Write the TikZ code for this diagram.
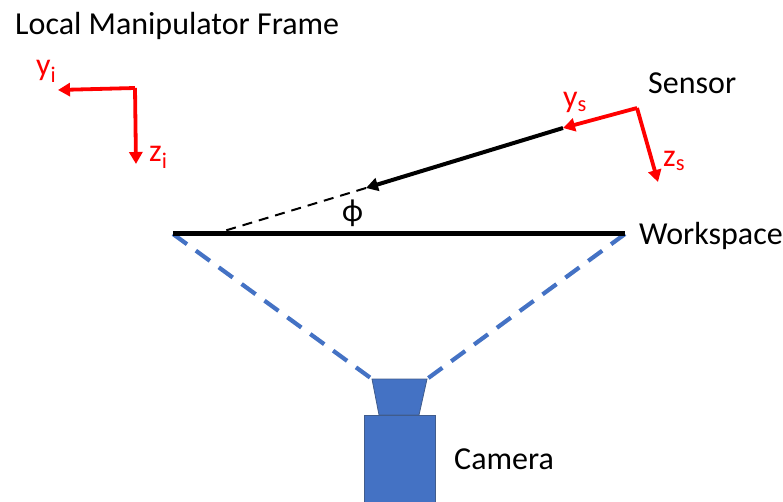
\documentclass[tikz,border=0pt]{standalone}
\usepackage{fontspec}
\setmainfont{Carlito}
\usetikzlibrary{arrows.meta}
\definecolor{camblue}{RGB}{68,114,196}
\definecolor{camedge}{RGB}{64,92,140}
\tikzset{
  x=1pt,y=-1pt,
  lbl/.style={inner sep=0pt,font=\fontsize{32}{34}\selectfont,anchor=base west},
  redlbl/.style={lbl,text=red},
  redarrow/.style={draw=red,line width=3.8pt,-{Triangle[length=12pt,width=13pt]}},
  blackarrow/.style={draw=black,line width=4pt,-{Triangle[length=12pt,width=13pt]}},
  sightline/.style={draw=black,line width=2pt,dash pattern=on 10pt off 7pt},
  viewline/.style={draw=camblue,line width=4.2pt,dash pattern=on 17.3pt off 11pt},
  campart/.style={fill=camblue,draw=camedge,line width=0.8pt},
}
\begin{document}
\begin{tikzpicture}
\useasboundingbox (0,0) rectangle (783,502);
\coordinate (li) at (135,88);
\coordinate (yiend) at (58,90);
\coordinate (ziend) at (136,164);
\coordinate (so) at (637,108);
\coordinate (ysend) at (563,128);
\coordinate (bend) at (366,188);
\coordinate (dashend) at (224,231);
\coordinate (zsend) at (658,182);
\coordinate (wl) at (173,234);
\coordinate (wr) at (625,234);
\coordinate (ll) at (372,379);
\coordinate (lr) at (427,379);
\node[lbl] (title) at (15,35) {Local Manipulator Frame};
\node[redlbl] (yi) at (36,76) {y\textsubscript{i}};
\node[redlbl] (zi) at (149,162) {z\textsubscript{i}};
\node[redlbl] (ys) at (563,108) {y\textsubscript{s}};
\node[redlbl] (zs) at (663,167) {z\textsubscript{s}};
\node[lbl] (sensor) at (648,93.5) {Sensor};
\node[lbl] (work) at (639,245) {Workspace};
\node[lbl] (cam) at (454,469) {Camera};
\node[lbl] (phi) at (342,222) {ϕ};
\draw[sightline] (bend) -- (dashend);
\draw[viewline] (wl) -- (ll);
\draw[viewline] (wr) -- (lr);
\draw[line width=5pt,black] (wl) -- (wr);
\draw[blackarrow] (ysend) -- (bend);
\draw[redarrow] (li) -- (yiend);
\draw[redarrow] (li) -- (ziend);
\draw[redarrow] (so) -- (ysend);
\draw[redarrow] (so) -- (zsend);
\draw[campart] (ll) -- (lr) -- (419,415) -- (379,415) -- cycle;
\draw[campart] (364,415) rectangle (435,503);
\end{tikzpicture}
\end{document}
